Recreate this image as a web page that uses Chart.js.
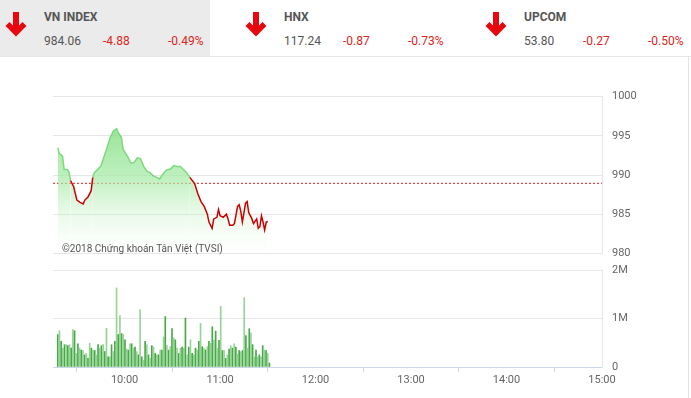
<!DOCTYPE html>
<html>
<head>
<meta charset="utf-8">
<script src="https://cdn.jsdelivr.net/npm/chart.js@4/dist/chart.umd.min.js"></script>
<style>
  html,body{margin:0;padding:0;background:#fff;}
  body{width:691px;height:398px;position:relative;overflow:hidden;font-family:Roboto,"Noto Sans",Arial,sans-serif;}
  .hdrbg{position:absolute;left:0;top:0;width:210px;height:56px;background:#ebebeb;}
  .hline{position:absolute;left:0;top:56px;width:691px;height:1px;background:#e4e4e4;}
  .vline{position:absolute;left:688px;top:57px;width:1px;height:341px;background:#e4e4e4;}
  .t{position:absolute;font-size:12px;color:#555;white-space:nowrap;line-height:14px;}
  .b{font-weight:bold;}
  .r{color:#d9261c;}
  svg.arr{position:absolute;width:24px;height:26px;}
  canvas{position:absolute;left:0;}
  .copy{position:absolute;left:62px;top:242px;font-size:10px;color:#555;white-space:nowrap;line-height:13px;}
</style>
</head>
<body>
<div class="hdrbg"></div>
<div class="hline"></div>
<div class="vline"></div>
<div id="hdr"></div>
<canvas id="price" width="691" height="190" style="top:80px"></canvas>
<canvas id="vol" width="691" height="148" style="top:250px"></canvas>
<div class="copy">©2018 Chứng khoán Tân Việt (TVSI)</div>
<script>
// ---- header data ----
const indexNames = ["VN INDEX", "HNX", "UPCOM"];
const indexValues = ["984.06", "117.24", "53.80"];
const indexChanges = ["-4.88", "-0.87", "-0.27"];
const indexPercents = ["-0.49%", "-0.73%", "-0.50%"];

// ---- price series (VN INDEX intraday) ----
const priceTimes = ["09:18","09:19","09:20","09:21","09:22","09:24","09:25","09:26","09:28","09:30",
  "09:32","09:34","09:35","09:37","09:39","09:40","09:41","09:45","09:47","09:49",
  "09:51","09:53","09:55","09:56","09:58","09:59","10:02","10:04","10:06","10:08",
  "10:10","10:12","10:14","10:16","10:18","10:20","10:22","10:24","10:26","10:29",
  "10:31","10:33","10:35","10:37","10:39","10:41","10:44","10:46","10:48","10:50",
  "10:52","10:53","10:55","10:56","10:58","10:59","11:00","11:02","11:04","11:05",
  "11:06","11:08","11:09","11:11","11:12","11:13","11:14","11:15","11:16","11:17",
  "11:18","11:20","11:21","11:23","11:24","11:25","11:26","11:27","11:28","11:29","11:30"];
const priceValues = [993.5,992.7,992.6,992.4,990.7,990.7,990.4,989.3,988.5,986.8,
  986.5,986.3,986.8,987.2,988.0,989.7,990.3,991.1,992.3,993.5,
  994.8,995.6,995.9,995.4,994.8,993.3,992.3,991.5,991.6,992.2,
  992.1,991.1,990.5,990.3,989.9,989.7,989.5,990.1,990.6,990.8,
  991.2,991.1,991.1,990.7,990.3,989.7,988.9,987.6,986.6,986.0,
  985.0,984.0,983.2,984.4,984.6,985.6,984.8,984.6,985.0,984.4,
  983.6,983.6,983.8,986.0,986.2,985.4,984.0,985.2,986.4,986.6,
  985.2,984.4,983.8,984.4,983.2,983.4,984.8,984.0,983.0,984.0,984.06];
const referenceValue = 988.94;

// ---- volume series (millions of shares, one bar per interval) ----
const volumeFirst = "09:18";
const volumeLast = "11:31";
const volumeValues = [0.67,0.75,0.53,0.39,0.46,0.46,0.44,0.46,0.39,0.77,
  0.75,0.28,0.48,0.39,0.35,0.34,0.25,0.28,0.18,0.49,
  0.39,0.35,0.34,0.25,0.46,0.39,0.44,0.46,0.32,0.80,
  0.21,0.21,0.46,0.32,0.53,1.63,0.67,1.06,0.69,0.67,
  0.56,0.37,0.35,0.48,0.48,0.39,0.41,0.32,0.25,1.18,
  0.21,0.14,0.53,0.46,0.25,0.18,0.44,0.41,0.28,0.25,
  0.25,0.35,0.35,0.62,1.04,0.44,0.35,0.42,0.79,0.60,
  0.56,0.39,0.28,0.39,0.41,0.39,1.01,0.25,0.41,0.56,
  0.28,0.25,0.39,0.35,0.53,0.90,0.42,0.39,0.35,0.42,
  0.53,0.49,0.83,0.56,0.74,0.39,0.55,1.25,0.34,0.34,
  0.18,0.25,0.37,0.44,0.39,0.48,0.41,0.27,0.34,0.32,
  0.34,1.43,0.65,0.39,0.79,0.70,0.46,0.21,0.35,0.21,
  0.25,0.21,0.44,0.35,0.34,0.28,0.08];

// ---- axes ----
const timeStart = "09:15";
const timeEnd = "15:00";
const timeTickLabels = ["10:00","11:00","12:00","13:00","14:00","15:00"];
const priceTickLabels = [980, 985, 990, 995, 1000];
const volumeTickLabels = [0, 1, 2];

// ---------------------------------------------------
function toMin(s){ const p = s.split(":"); return (+p[0])*60 + (+p[1]); }
function fmtMin(m){ const h = Math.floor(m/60), mm = Math.round(m%60); return h + ":" + String(mm).padStart(2,"0"); }

// header
(function(){
  const hdr = document.getElementById("hdr");
  const baseX = [0, 240, 480];
  let html = "";
  indexNames.forEach((n,i)=>{
    const x = baseX[i];
    html += `<svg class="arr" style="left:${x+4}px;top:11px" viewBox="0 0 24 26"><path d="M12 1 V21" stroke="#e8070f" stroke-width="6" fill="none"/><path d="M3.5 13 L12 21.5 L20.5 13" stroke="#e8070f" stroke-width="5.5" fill="none" stroke-linecap="butt" stroke-linejoin="miter"/></svg>`;
    html += `<div class="t b" style="left:${x+44}px;top:10px">${n}</div>`;
    html += `<div class="t" style="left:${x+44}px;top:34px">${indexValues[i]}</div>`;
    html += `<div class="t r" style="left:${x+103}px;top:34px">${indexChanges[i]}</div>`;
    html += `<div class="t r" style="left:${x+168}px;top:34px">${indexPercents[i]}</div>`;
  });
  hdr.innerHTML = html;
})();

Chart.defaults.font.family = "Roboto, 'Noto Sans', Arial, sans-serif";
Chart.defaults.font.size = 11;
Chart.defaults.color = "#666";

const xMin = toMin(timeStart), xMax = toMin(timeEnd);
const RIGHT_AXIS_W = 89;
const LEFT_PAD = 53;
const GRID = "#e6e6e6";
const GREEN_LINE = "#7fd87f";
const RED_LINE = "#cc0000";

// price chart
const pricePts = priceTimes.map((t,i)=>({x: toMin(t), y: priceValues[i]}));
new Chart(document.getElementById("price"), {
  type: "line",
  data: {
    datasets: [{
      data: pricePts,
      borderWidth: 1.5,
      borderColor: GREEN_LINE,
      pointRadius: 0,
      tension: 0,
      fill: "start",
      backgroundColor: (ctx)=>{
        const ca = ctx.chart.chartArea;
        if (!ca) return "rgba(140,225,140,0.6)";
        const g = ctx.chart.ctx.createLinearGradient(0, ca.top + 20, 0, ca.bottom);
        g.addColorStop(0, "rgba(130,222,130,0.9)");
        g.addColorStop(0.45, "rgba(165,234,165,0.7)");
        g.addColorStop(1, "rgba(235,250,235,0.05)");
        return g;
      },
      segment: {
        borderColor: (ctx)=> (ctx.p0.parsed.y < referenceValue || ctx.p1.parsed.y < referenceValue) ? RED_LINE : GREEN_LINE
      }
    },{
      data: [{x: xMin, y: referenceValue},{x: xMax, y: referenceValue}],
      borderColor: "#d22",
      borderWidth: 1,
      borderDash: [2, 2],
      pointRadius: 0,
      fill: false
    }]
  },
  options: {
    responsive: false,
    animation: false,
    events: [],
    layout: { padding: { left: LEFT_PAD, right: 0, top: 12, bottom: 14 } },
    plugins: { legend: { display: false }, tooltip: { enabled: false } },
    scales: {
      x: { type: "linear", min: xMin, max: xMax, display: false },
      y: {
        type: "linear", position: "right", min: 980, max: 1000,
        afterBuildTicks: (s)=>{ s.ticks = priceTickLabels.map(v=>({value:v})); },
        afterFit: (s)=>{ s.width = RIGHT_AXIS_W; },
        grid: { color: GRID, drawTicks: false },
        border: { display: true, color: GRID },
        ticks: { padding: 10, color: "#666", callback: (v)=> String(v) }
      }
    }
  }
});

// volume chart
const vFirst = toMin(volumeFirst), vLast = toMin(volumeLast);
const volPts = volumeValues.map((v,i)=>({x: vFirst + i*(vLast - vFirst)/(volumeValues.length - 1), y: v*1e6}));
new Chart(document.getElementById("vol"), {
  type: "bar",
  data: {
    datasets: [{
      data: volPts,
      backgroundColor: (ctx)=> ctx.dataIndex % 2 ? "#96d496" : "#48a848",
      borderWidth: 0,
      barThickness: 1
    }]
  },
  options: {
    responsive: false,
    animation: false,
    events: [],
    layout: { padding: { left: LEFT_PAD, right: 0, top: 20, bottom: 0 } },
    plugins: { legend: { display: false }, tooltip: { enabled: false } },
    scales: {
      x: {
        type: "linear", min: xMin, max: xMax, offset: false,
        afterBuildTicks: (s)=>{ s.ticks = timeTickLabels.map(t=>({value: toMin(t)})); },
        afterFit: (s)=>{ s.height = 31; },
        grid: { drawOnChartArea: false, drawTicks: true, tickLength: 5, color: "#ccd6eb" },
        border: { display: true, color: "#ccd6eb" },
        ticks: { padding: 2, maxRotation: 0, autoSkip: false, color: "#666",
          callback: (v)=> fmtMin(v) }
      },
      y: {
        type: "linear", position: "right", min: 0, max: 2e6,
        afterBuildTicks: (s)=>{ s.ticks = volumeTickLabels.map(v=>({value: v*1e6})); },
        afterFit: (s)=>{ s.width = RIGHT_AXIS_W; },
        grid: { color: GRID, drawTicks: false },
        border: { display: true, color: GRID },
        ticks: { padding: 10, color: "#666",
          callback: (v)=> v === 0 ? "0" : (v/1e6) + "M" }
      }
    }
  }
});
</script>
</body>
</html>
